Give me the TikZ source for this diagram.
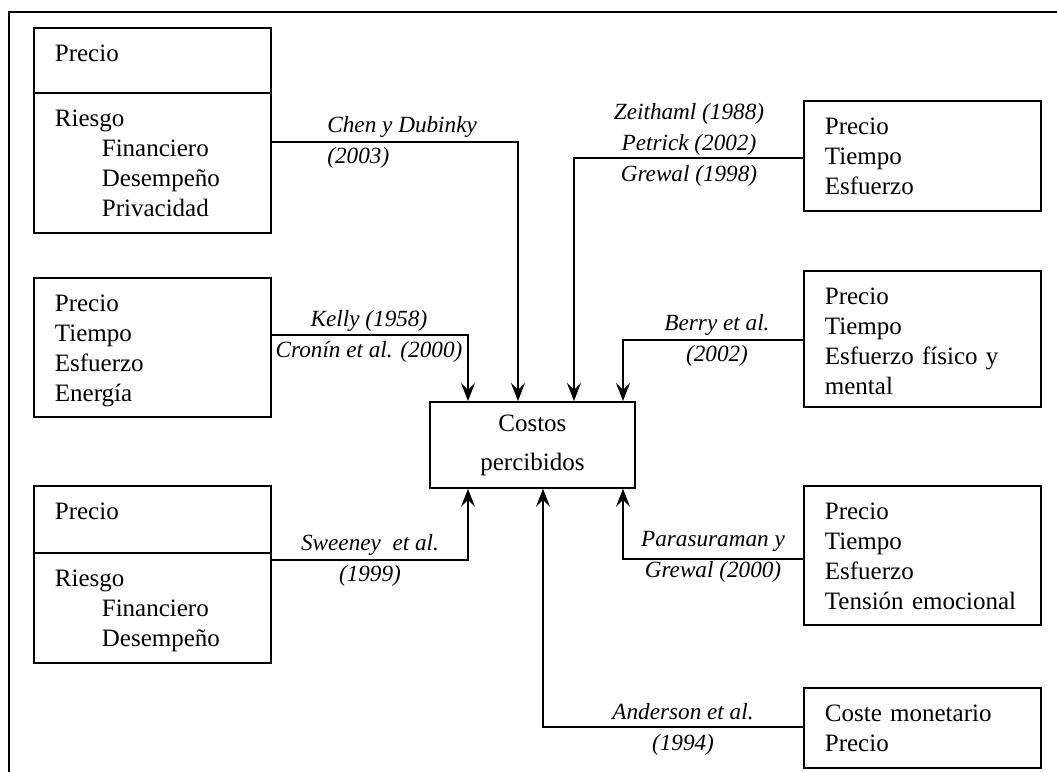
\documentclass[tikz,border=0pt]{standalone}
\usepackage{fontspec}
\setmainfont{Liberation Serif}
\usetikzlibrary{arrows.meta}
\usetikzlibrary{positioning}

\begin{document}
\begin{tikzpicture}[x=0.5pt,y=-0.5pt]
\tikzset{Factor/.style={
  draw,
  line width=0.9pt,
  rectangle,
  anchor=north west,
  align=left,
  minimum width=118.5pt,
  text width=97.5pt,
  inner xsep=10.5pt,
  inner ysep=0pt,
  text height=17pt,
  font=\fontsize{12.5}{15}\selectfont
}}
\tikzset{Central/.style={
  draw,
  line width=0.9pt,
  rectangle,
  anchor=north west,
  align=center,
  minimum width=102.5pt,
  minimum height=43pt,
  font=\fontsize{12.5}{15}\selectfont
}}
\tikzset{Cita/.style={
  align=center,
  inner sep=0pt,
  font=\fontsize{11.6}{15.5}\selectfont\itshape
}}
\tikzset{Flecha/.style={
  draw,
  line width=0.8pt,
  -{Stealth[length=9pt,width=7pt,inset=3.5pt]}
}}

\useasboundingbox (0,0) rectangle (1057,772);
\draw[line width=0.9pt] (1057,12) -- (9,12) -- (9,772);

% izquierda
\node[Factor, text depth=15.5pt] (izqA) at (33,27) {Precio};
\node[Factor, text depth=53pt] (izqAr) at (33,92) {Riesgo\\
  \hspace*{23.5pt}Financiero\\
  \hspace*{23.5pt}Desempeño\\
  \hspace*{23.5pt}Privacidad};
\node[Factor, text depth=52.5pt] (izqB) at (33,277) {Precio\\Tiempo\\Esfuerzo\\Energía};
\node[Factor, text depth=16.5pt] (izqC) at (33,485) {Precio};
\node[Factor, text depth=38pt] (izqCr) at (33,552) {Riesgo\\
  \hspace*{23.5pt}Financiero\\
  \hspace*{23.5pt}Desempeño};

% derecha
\node[Factor, text depth=38pt] (derA) at (803,100) {Precio\\Tiempo\\Esfuerzo};
\node[Factor, text depth=51pt] (derB) at (803,270) {Precio\\Tiempo\\Esfuerzo físico y\\mental};
\node[Factor, text depth=52.5pt] (derC) at (803,485) {Precio\\Tiempo\\Esfuerzo\\Tensión emocional};
\node[Factor, text depth=23pt] (derD) at (803,687) {Coste monetario\\Precio};

\node[Central] (costos) at (429,401) {Costos\\[4.5pt]percibidos};

% conectores
\coordinate (cChen) at (518,142);
\coordinate (cKelly) at (468,335);
\coordinate (cSweeney) at (468,560);
\coordinate (cZeit) at (574,158);
\coordinate (cBerry) at (623,340);
\coordinate (cPara) at (623,559);
\coordinate (cAnder) at (543,727);

\draw[Flecha] (cChen -| izqAr.east) -| (costos.north -| cChen);
\draw[Flecha] (cKelly -| izqB.east) -| (costos.north -| cKelly);
\draw[Flecha] (cSweeney -| izqCr.east) -| (costos.south -| cSweeney);
\draw[Flecha] (cZeit -| derA.west) -| (costos.north -| cZeit);
\draw[Flecha] (cBerry -| derB.west) -| (costos.north -| cBerry);
\draw[Flecha] (cPara -| derC.west) -| (costos.south -| cPara);
\draw[Flecha] (cAnder -| derD.west) -| (costos.south -| cAnder);

\node[Cita, align=left, anchor=west] (tChen) at (327,142) {Chen y Dubinky\\(2003)};
\node[Cita] (tKelly) at (369,336) {Kelly (1958)\\Cronín et al. (2000)};
\node[Cita] (tSweeney) at (370,560) {Sweeney~ et al.\\(1999)};
\node[Cita] (tZeit) at (689,145) {Zeithaml (1988)\\Petrick (2002)\\Grewal (1998)};
\node[Cita] (tBerry) at (717,340) {Berry et al.\\(2002)};
\node[Cita] (tPara) at (713,557) {Parasuraman y\\Grewal (2000)};
\node[Cita] (tAnder) at (683,729) {Anderson et al.\\(1994)};
\end{tikzpicture}
\end{document}
